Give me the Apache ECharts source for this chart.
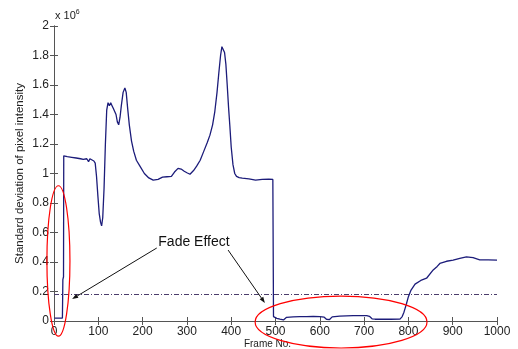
<!DOCTYPE html>
<html><head><meta charset="utf-8">
<script src="https://cdn.jsdelivr.net/npm/echarts@6/dist/echarts.min.js"></script>
<style>html,body{margin:0;padding:0;background:#fff}#c{width:518px;height:349px}</style>
</head><body><div id="c"></div>
<script>
// Data (values in units of 10^6)
const frames = [1,19,20,21.5,22,30,40,50,60,66,70,74,78,81,85,90,93,96,99,102,105,107.5,110,113,116,119,122,125,128,131,134,137,140,143,146,149,152,156,160,163,166,170,175,180,186,194,204,214,224,235,245,255,265,272,280,287,294,300,307,315,322,330,338,346,352,358,363,368,372,376,379,382,385,388,391,394,397,400,404,408,412,418,425,440,455,470,485,494,495.5,503,510,518,525,540,555,570,585,600,610,615,622,628,645,660,675,690,706,712,718,725,740,760,781,786,790,795,800,806,815,828,841,856,865,871,886,901,916,931,946,961,980,1000];
const stdDev = [0.02,0.02,0.28,0.30,1.12,1.115,1.11,1.105,1.10,1.095,1.09,1.10,1.08,1.10,1.095,1.085,1.07,0.98,0.85,0.73,0.67,0.645,0.70,0.90,1.20,1.43,1.48,1.46,1.48,1.46,1.44,1.44,1.40,1.35,1.33,1.38,1.46,1.55,1.58,1.55,1.45,1.33,1.22,1.15,1.09,1.05,1.00,0.97,0.955,0.96,0.975,0.978,0.98,1.01,1.035,1.03,1.015,1.005,0.995,1.02,1.05,1.09,1.15,1.21,1.26,1.33,1.42,1.55,1.68,1.80,1.86,1.855,1.82,1.74,1.60,1.45,1.32,1.18,1.06,1.00,0.98,0.972,0.968,0.963,0.955,0.96,0.962,0.96,0.03,0.018,0.012,0.007,0.025,0.028,0.03,0.03,0.032,0.03,0.026,0.012,0.01,0.028,0.033,0.035,0.037,0.036,0.037,0.032,0.015,0.012,0.012,0.012,0.013,0.03,0.06,0.11,0.165,0.21,0.25,0.275,0.29,0.346,0.37,0.39,0.405,0.413,0.425,0.435,0.43,0.415,0.415,0.413];
const thresholdValue = 0.185;
const xTicks = [0,100,200,300,400,500,600,700,800,900,1000];
const yTicks = [0,0.2,0.4,0.6,0.8,1,1.2,1.4,1.6,1.8,2];
const annotationText = "Fade Effect";
// annotation anchors in data coordinates
const ellipses = [ {cx:10, cy:0.407, rx:26, ry:0.51}, {cx:648, cy:-0.007, rx:194, ry:0.176} ];
const arrows = [ {from:[232,0.495], to:[41,0.149]}, {from:[393,0.481], to:[476,0.122]} ];
const textAnchor = [316, 0.536];

const chart = echarts.init(document.getElementById('c'), null, {renderer:'canvas'});
const axisCol = '#555';
const font = 'Liberation Sans, Arial, sans-serif';
const series = frames.map((f,i)=>[f, stdDev[i]]);
chart.setOption({
  animation:false,
  backgroundColor:'#fff',
  grid:{left:54, right:21, top:26, bottom:28, containLabel:false, outerBoundsMode:'none'},
  xAxis:[
    {type:'value', min:0, max:1000, interval:100, position:'bottom',
     name:'Frame No.', nameLocation:'middle', nameGap:18, nameMoveOverlap:false,
     nameTextStyle:{fontFamily:font, fontSize:10, color:'#222', padding:[0,16,0,0]},
     axisLine:{show:true, lineStyle:{color:axisCol, width:1}},
     axisTick:{show:true, inside:true, length:4, lineStyle:{color:axisCol}},
     axisLabel:{show:true, fontFamily:font, fontSize:12, color:'#222', margin:5,
       formatter:v=> xTicks.includes(v)? String(v):''},
     splitLine:{show:false}},
    {type:'value', min:0, max:1000, interval:100, position:'top',
     axisLine:{show:true, lineStyle:{color:axisCol, width:1}},
     axisTick:{show:true, inside:true, length:4, lineStyle:{color:axisCol}},
     axisLabel:{show:false}, splitLine:{show:false}}
  ],
  yAxis:[
    {type:'value', min:0, max:2, interval:0.2, position:'left',
     name:'Standard deviation of pixel intensity', nameLocation:'middle', nameGap:28, nameRotate:90, nameMoveOverlap:false,
     nameTextStyle:{fontFamily:font, fontSize:11.5, color:'#222'},
     axisLine:{show:true, lineStyle:{color:axisCol, width:1}},
     axisTick:{show:true, inside:true, length:4, lineStyle:{color:axisCol}},
     axisLabel:{show:true, fontFamily:font, fontSize:12, color:'#222', margin:5,
       formatter:v=>{const t=yTicks.find(y=>Math.abs(y-v)<1e-6); return t===undefined?'':String(t);}},
     splitLine:{show:false}},
    {type:'value', min:0, max:2, interval:0.2, position:'right',
     axisLine:{show:true, lineStyle:{color:axisCol, width:1}},
     axisTick:{show:true, inside:true, length:4, lineStyle:{color:axisCol}},
     axisLabel:{show:false}, splitLine:{show:false}}
  ],
  series:[{
    type:'line', xAxisIndex:0, yAxisIndex:0, data:series, showSymbol:false, symbol:'none',
    lineStyle:{color:'#1c1c7a', width:1.3}, z:5,
    markLine:{silent:true, symbol:['none','none'], label:{show:false},
      lineStyle:{color:'#4b3d6b', width:1, type:[5,2,1,2]},
      data:[{yAxis:thresholdValue}]}
  }]
});

function px(p){ return chart.convertToPixel({xAxisIndex:0, yAxisIndex:0}, p); }
const g = [];
ellipses.forEach(e=>{
  const c = px([e.cx,e.cy]);
  const r = px([e.cx+e.rx, e.cy+e.ry]);
  g.push({type:'ellipse', shape:{cx:c[0], cy:c[1], rx:Math.abs(r[0]-c[0]), ry:Math.abs(c[1]-r[1])},
    style:{fill:null, stroke:'#ff0000', lineWidth:1.2}, z:20});
});
arrows.forEach(a=>{
  const s = px(a.from), t = px(a.to);
  const dx=t[0]-s[0], dy=t[1]-s[1], L=Math.hypot(dx,dy), ux=dx/L, uy=dy/L;
  const hl=6, hw=2.2;
  const bx=t[0]-ux*hl, by=t[1]-uy*hl;
  g.push({type:'line', shape:{x1:s[0], y1:s[1], x2:bx, y2:by}, style:{stroke:'#111', lineWidth:1}, z:21});
  g.push({type:'polygon', shape:{points:[[t[0],t[1]],[bx-uy*hw,by+ux*hw],[bx+uy*hw,by-ux*hw]]}, style:{fill:'#111'}, z:21});
});
const ta = px(textAnchor);
g.push({type:'text', x:ta[0], y:ta[1], style:{text:annotationText, fontFamily:font, fontSize:14, fill:'#111', align:'center', verticalAlign:'middle'}, z:22});
const corner = px([0,2]);
g.push({type:'text', x:corner[0]+1, y:corner[1]-3, style:{
  text:'{a|x 10}{b|6}', verticalAlign:'bottom', align:'left',
  rich:{a:{fontFamily:font, fontSize:11, fill:'#222'}, b:{fontFamily:font, fontSize:7, fill:'#222', verticalAlign:'top', padding:[0,0,7,0]}}}, z:22});
chart.setOption({graphic:g});
</script></body></html>
